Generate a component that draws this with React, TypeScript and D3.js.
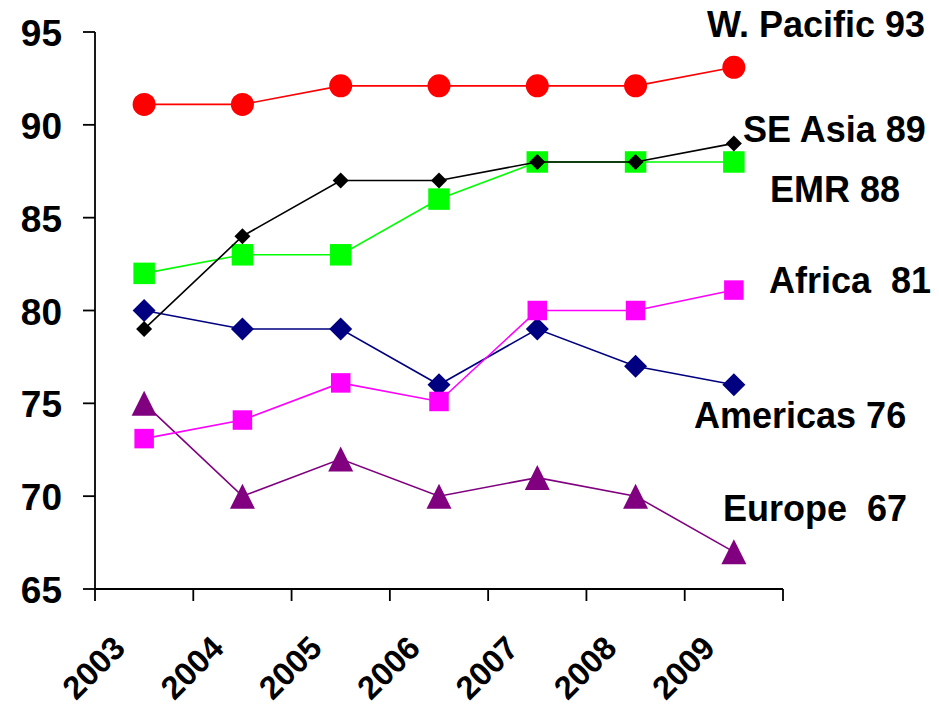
import React from "react";
import * as d3 from "d3";

const years = ["2003", "2004", "2005", "2006", "2007", "2008", "2009"];
const yTicks = [65, 70, 75, 80, 85, 90, 95];

const europe = [75, 70, 72, 70, 71, 70, 67];
const americas = [80, 79, 79, 76, 79, 77, 76];
const africa = [73.1, 74.1, 76.1, 75.1, 80, 80, 81.1];
const emr = [82, 83, 83, 86, 88, 88, 88];
const seAsia = [79, 84, 87, 87, 88, 88, 89];
const wPacific = [91.1, 91.1, 92.1, 92.1, 92.1, 92.1, 93.1];

const seriesNames = ["Europe", "Americas", "Africa", "EMR", "SE Asia", "W. Pacific"];
const seriesValues = [europe, americas, africa, emr, seAsia, wPacific];
const seriesColors = ["#800080", "#000080", "#FF00FF", "#00FF00", "#000000", "#FF0000"];
const seriesMarkers = ["triangle", "diamond", "square", "square", "diamond", "circle"];
const markerSizes = [25, 23, 19.5, 21.5, 16, 23];

// End-of-line labels: text, anchor position (start x, baseline y)
const endLabels = [
  { text: "W. Pacific 93", x: 707, y: 37 },
  { text: "SE Asia 89", x: 743, y: 142 },
  { text: "EMR 88", x: 770, y: 202 },
  { text: "Africa  81", x: 769, y: 293 },
  { text: "Americas 76", x: 694, y: 428 },
  { text: "Europe  67", x: 723, y: 521 },
];

const W = 939;
const H = 706;
const left = 95;
const right = 783;
const top = 32;
const bottom = 589;
const FONT = "'Liberation Sans', Arial, Helvetica, sans-serif";

function markerPath(kind: string, size: number): string {
  const s = size / 2;
  if (kind === "circle") {
    return d3.symbol(d3.symbolCircle, Math.PI * s * s)() as string;
  }
  if (kind === "square") {
    return `M${-s},${-s}H${s}V${s}H${-s}Z`;
  }
  if (kind === "diamond") {
    return `M0,${-s}L${s},0L0,${s}L${-s},0Z`;
  }
  // triangle, centred vertically on the data point
  return `M0,${-s}L${s},${s}L${-s},${s}Z`;
}

export default function App() {
  const x = d3.scaleBand<string>().domain(years).range([left, right]);
  const cx = (yr: string) => (x(yr) as number) + x.bandwidth() / 2;
  const y = d3.scaleLinear().domain([65, 95]).range([bottom, top]);

  const line = d3
    .line<number>()
    .x((_, i) => cx(years[i]))
    .y((v) => y(v));

  const xBoundaries = [...years.map((yr) => x(yr) as number), right];

  return (
    <svg
      width={W}
      height={H}
      style={{ position: "absolute", left: 0, top: 0, background: "#fff" }}
      fontFamily={FONT}
    >
      <rect width={W} height={H} fill="#fff" />
      {/* axes */}
      <line x1={left} x2={left} y1={top} y2={bottom} stroke="#000" strokeWidth={1.8} />
      <line x1={left} x2={right} y1={bottom} y2={bottom} stroke="#000" strokeWidth={1.8} />
      {yTicks.map((t) => (
        <g key={t}>
          <line x1={left - 12} x2={left} y1={y(t)} y2={y(t)} stroke="#000" strokeWidth={1.8} />
          <text
            x={62}
            y={y(t) + 14}
            textAnchor="end"
            fontSize={37}
            fontWeight="bold"
            fill="#000"
          >
            {t}
          </text>
        </g>
      ))}
      {xBoundaries.map((bx, i) => (
        <line key={i} x1={bx} x2={bx} y1={bottom} y2={bottom + 12} stroke="#000" strokeWidth={1.8} />
      ))}
      {years.map((yr) => (
        <text
          key={yr}
          transform={`translate(${cx(yr) - 17},${bottom + 61}) rotate(-45)`}
          textAnchor="end"
          fontSize={32.5}
          fontWeight="bold"
          fill="#000"
        >
          {yr}
        </text>
      ))}
      {/* series */}
      {seriesValues.map((vals, si) => (
        <g key={seriesNames[si]}>
          <path d={line(vals) as string} fill="none" stroke={seriesColors[si]} strokeWidth={1.6} />
          {vals.map((v, i) => (
            <path
              key={i}
              transform={`translate(${cx(years[i])},${y(v)})`}
              d={markerPath(seriesMarkers[si], markerSizes[si])}
              fill={seriesColors[si]}
            />
          ))}
        </g>
      ))}
      {/* end labels */}
      {endLabels.map((l) => (
        <text
          key={l.text}
          x={l.x}
          y={l.y}
          fontSize={36}
          fontWeight="bold"
          fill="#000"
          style={{ whiteSpace: "pre" }}
        >
          {l.text}
        </text>
      ))}
    </svg>
  );
}
